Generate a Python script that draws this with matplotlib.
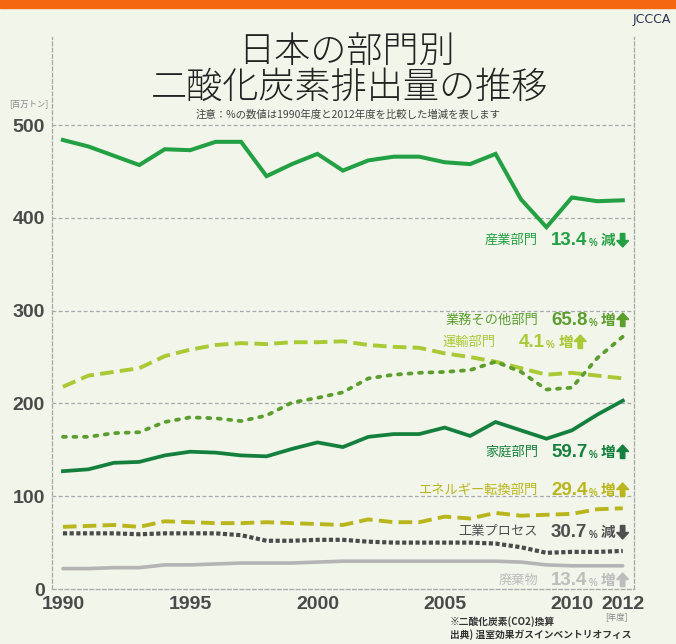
import matplotlib
matplotlib.use("Agg")
import matplotlib.pyplot as plt
from matplotlib.patches import Polygon, Rectangle

plt.rcParams['font.family'] = ['Noto Sans CJK JP', 'DejaVu Sans']

years = list(range(1990, 2013))
industry = [484, 477, 467, 457, 474, 473, 482, 482, 445, 458, 469, 451, 462, 466, 466, 460, 458, 469, 420, 390, 422, 418, 419]
commercial = [164, 164, 168, 169, 180, 185, 184, 181, 187, 201, 206, 212, 227, 231, 233, 234, 236, 245, 234, 215, 217, 249, 272]
transport = [218, 230, 234, 238, 251, 258, 263, 265, 264, 266, 266, 267, 263, 261, 260, 254, 250, 245, 238, 231, 233, 230, 227]
household = [127, 129, 136, 137, 144, 148, 147, 144, 143, 151, 158, 153, 164, 167, 167, 174, 165, 180, 171, 162, 171, 188, 203]
energy = [67, 68, 69, 67, 73, 72, 71, 71, 72, 71, 70, 69, 75, 72, 72, 78, 76, 82, 79, 80, 81, 86, 87]
process = [60, 60, 60, 59, 60, 60, 60, 58, 52, 52, 53, 53, 51, 50, 50, 50, 50, 49, 45, 39, 40, 40, 41]
waste = [22, 22, 23, 23, 26, 26, 27, 28, 28, 28, 29, 30, 30, 30, 30, 30, 30, 30, 29, 26, 25, 25, 25]

yticks = [0, 100, 200, 300, 400, 500]
xticks = [1990, 1995, 2000, 2005, 2010, 2012]

names = ['産業部門', '業務その他部門', '運輸部門', '家庭部門', 'エネルギー転換部門', '工業プロセス', '廃棄物']
pcts = ['13.4', '65.8', '4.1', '59.7', '29.4', '30.7', '13.4']
dirs = ['減', '増', '増', '増', '増', '減', '増']

W, H = 676, 644
BG = '#f2f5ea'
fig = plt.figure(figsize=(W / 100, H / 100), dpi=100, facecolor=BG)


def fx(x):
    return x / W


def fy(y):
    return 1 - y / H


# axes: left 52, right 634, top 37, bottom 589 (pixels)
ax = fig.add_axes([fx(52), fy(589), (634 - 52) / W, (589 - 37) / H])
ax.set_facecolor(BG)
ax.set_xlim(1989.57, 2012.44)
ax.set_ylim(0, 595)

grid_c = '#a8a8a8'
for v in yticks[1:]:
    ax.axhline(v, color=grid_c, lw=0.9, ls=(0, (3, 2)), zorder=1)
for s in ['left', 'right', 'bottom']:
    ax.spines[s].set_color(grid_c)
    ax.spines[s].set_linewidth(0.9)
    ax.spines[s].set_linestyle((0, (3, 2)))
ax.spines['top'].set_visible(False)

num_font = ['Liberation Sans Narrow', 'Liberation Sans', 'DejaVu Sans']
ax.set_yticks(yticks)
ax.set_yticklabels([str(v) for v in yticks], family=num_font, fontweight='bold',
                   fontsize=14, color='#4a4a4a')
ax.set_xticks(xticks)
ax.set_xticklabels([str(v) for v in xticks], family=num_font, fontweight='bold',
                   fontsize=14, color='#4a4a4a')
ax.tick_params(axis='both', length=0)
ax.tick_params(axis='y', pad=5)
ax.tick_params(axis='x', pad=5)

c_ind = '#22a043'
c_com = '#5c9e2e'
c_tra = '#a9c935'
c_hou = '#15803d'
c_ene = '#b8b61c'
c_pro = '#4a4a4a'
c_was = '#b4b4b4'

ax.plot(years, waste, color=c_was, lw=2.6, solid_capstyle='round', zorder=3)
ax.plot(years, process, color=c_pro, lw=3.0, ls=(0, (1.0, 0.6)), zorder=3)
ax.plot(years, energy, color=c_ene, lw=2.8, ls=(0, (3.5, 1.6)), zorder=3)
ax.plot(years, household, color=c_hou, lw=2.7, solid_joinstyle='miter', zorder=3)
ax.plot(years, transport, color=c_tra, lw=2.8, ls=(0, (3.5, 1.6)), zorder=3)
ax.plot(years, commercial, color=c_com, lw=2.7, ls=(0, (0.8, 2.0)), dash_capstyle='round', zorder=3)
ax.plot(years, industry, color=c_ind, lw=2.9, solid_joinstyle='miter', zorder=3)

# top orange bar
fig.add_artist(Rectangle((0, fy(8)), 1, 8 / H, transform=fig.transFigure,
                         color='#f4690f', zorder=10))

# titles
fig.text(fx(347), fy(52), '日本の部門別', ha='center', va='center', fontsize=26,
         fontweight='light', color='#222222')
fig.text(fx(350), fy(88), '二酸化炭素排出量の推移', ha='center', va='center', fontsize=26,
         fontweight='light', color='#222222')
fig.text(fx(348), fy(115), '注意：%の数値は1990年度と2012年度を比較した増減を表します',
         ha='center', va='center', fontsize=7.5, color='#444444')
fig.text(fx(29), fy(104), '[百万トン]', ha='center', va='center', fontsize=6, color='#888888')
fig.text(fx(616), fy(617), '[年度]', ha='center', va='center', fontsize=6, color='#888888')
fig.text(fx(450), fy(622), '※二酸化炭素(CO2)換算', ha='left', va='center', fontsize=7,
         fontweight='bold', color='#333333')
fig.text(fx(450), fy(635), '出典) 温室効果ガスインベントリオフィス', ha='left', va='center',
         fontsize=7, fontweight='bold', color='#333333')
fig.text(fx(652), fy(19), 'JCCCA', ha='center', va='center', fontsize=9,
         family=['Liberation Sans Narrow', 'DejaVu Sans'], color='#2b3350')

# right-side labels
renderer = fig.canvas.get_renderer()


def arrow(cx, cy, up, color):
    # pixel coordinates (y downward)
    hw, sw = 6.0, 2.2
    if up:
        pts = [(cx, cy - 7), (cx + hw, cy - 0.5), (cx + sw, cy - 0.5), (cx + sw, cy + 6.5),
               (cx - sw, cy + 6.5), (cx - sw, cy - 0.5), (cx - hw, cy - 0.5)]
    else:
        pts = [(cx, cy + 7), (cx + hw, cy + 0.5), (cx + sw, cy + 0.5), (cx + sw, cy - 6.5),
               (cx - sw, cy - 6.5), (cx - sw, cy + 0.5), (cx - hw, cy + 0.5)]
    fig.add_artist(Polygon([(fx(a), fy(b)) for a, b in pts], closed=True,
                           transform=fig.transFigure, color=color, zorder=6))


def label(i, y, color, name_x=None, val_x=551):
    if name_x is None:
        fig.text(fx(538), fy(y), names[i], ha='right', va='center', fontsize=9.5, color=color)
    else:
        fig.text(fx(name_x), fy(y), names[i], ha='left', va='center', fontsize=9.5, color=color)
    t = fig.text(fx(val_x), fy(y + 0.5), pcts[i], ha='left', va='center', fontsize=13.5,
                 family=num_font, fontweight='bold', color=color)
    bb = t.get_window_extent(renderer)
    x = bb.x1 + 1
    t2 = fig.text(x / W, fy(y + 3), '%', ha='left', va='center', fontsize=7,
                  family=num_font, fontweight='bold', color=color)
    bb = t2.get_window_extent(renderer)
    x = bb.x1 + 4
    t3 = fig.text(x / W, fy(y), dirs[i], ha='left', va='center', fontsize=10.5,
                  fontweight='bold', color=color)
    bb = t3.get_window_extent(renderer)
    arrow(bb.x1 + 7, y, dirs[i] == '増', color)


label(0, 240, c_ind)
label(1, 320, c_com)
label(2, 342, c_tra, name_x=443, val_x=519)
label(3, 452, c_hou)
label(4, 490, c_ene)
label(5, 532, '#4f4f4f')
label(6, 580, '#bdbdbd')

fig.savefig('out.png', dpi=100, facecolor=BG)
